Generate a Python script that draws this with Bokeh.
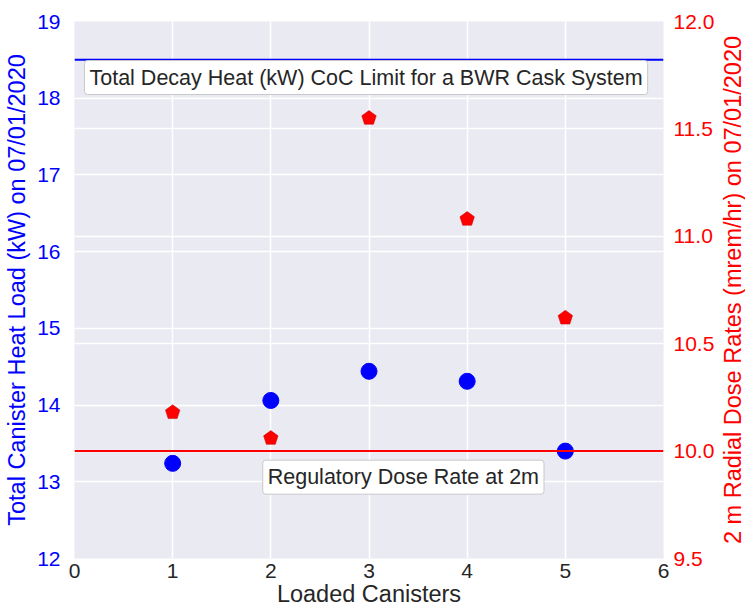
from bokeh.plotting import figure
from bokeh.layouts import row
from bokeh.models import Range1d, LinearAxis, FixedTicker, PrintfTickFormatter, Grid, Span, Label, Title, ColumnDataSource
from bokeh.embed import file_html
from bokeh.resources import INLINE

# ---- data ----
canisters = [1, 2, 3, 4, 5]
heat_load_kw = [13.24, 14.06, 14.44, 14.31, 13.40]
dose_rate = [10.18, 10.06, 11.55, 11.08, 10.62]
heat_limit_kw = 18.5
dose_limit = 10.0
x_ticks = [0, 1, 2, 3, 4, 5, 6]
left_ticks = [12, 13, 14, 15, 16, 17, 18, 19]
right_ticks = [9.5, 10.0, 10.5, 11.0, 11.5, 12.0]
heat_note = "Total Decay Heat (kW) CoC Limit for a BWR Cask System"
dose_note = "Regulatory Dose Rate at 2m"
right_label = "2 m Radial Dose Rates (mrem/hr) on 07/01/2020"

FONT = "Liberation Sans"
BLUE = "#0000FF"
RED = "#FF0000"
DARK = "#262626"

H = 610
W_MAIN, W_TITLE = 717, 28
BL, BT, BB = 74, 21, 47

p = figure(width=W_MAIN, height=H, output_backend="svg", toolbar_location=None,
           x_range=Range1d(0, 6), y_range=Range1d(12, 19),
           min_border_left=BL, min_border_right=0, min_border_top=BT, min_border_bottom=BB,
           background_fill_color="#EAEAF2", border_fill_color="white")
p.outline_line_color = None
p.extra_y_ranges = {"right": Range1d(9.5, 12.0)}

def style_axis(ax, color, standoff, label_standoff):
    ax.axis_line_color = None
    ax.major_tick_line_color = None
    ax.minor_tick_line_color = None
    ax.major_tick_out = 0
    ax.major_tick_in = 0
    ax.major_label_standoff = standoff
    ax.major_label_text_font = FONT
    ax.major_label_text_font_size = "21px"
    ax.major_label_text_color = color
    ax.axis_label_text_font = FONT
    ax.axis_label_text_font_size = "23.5px"
    ax.axis_label_text_font_style = "normal"
    ax.axis_label_text_color = color
    ax.axis_label_standoff = label_standoff

xa = p.xaxis[0]
xa.ticker = FixedTicker(ticks=x_ticks)
xa.axis_label = "Loaded Canisters"
style_axis(xa, DARK, 5, 0)

ya = p.yaxis[0]
ya.ticker = FixedTicker(ticks=left_ticks)
ya.axis_label = "Total Canister Heat Load (kW) on 07/01/2020"
style_axis(ya, BLUE, 14, 4)

ra = LinearAxis(y_range_name="right", ticker=FixedTicker(ticks=right_ticks),
                formatter=PrintfTickFormatter(format="%.1f"))
style_axis(ra, RED, 10, 0)
p.add_layout(ra, "right")

for g in p.grid:
    g.grid_line_color = "white"
    g.grid_line_width = 1.5
rg = Grid(dimension=1, axis=ra, ticker=ra.ticker, y_range_name="right",
          grid_line_color="white", grid_line_width=1.5)
p.add_layout(rg)

# limit lines
p.add_layout(Span(location=heat_limit_kw, dimension="width", line_color=BLUE, line_width=2))
p.add_layout(Span(location=dose_limit, dimension="width", line_color=RED, line_width=2,
                  y_range_name="right"))

# points
src_h = ColumnDataSource(dict(x=canisters, y=heat_load_kw))
p.scatter("x", "y", source=src_h, marker="circle", size=16, fill_color=BLUE, line_color=BLUE)

src_d = ColumnDataSource(dict(x=canisters, y=dose_rate))
p.ngon("x", "y", source=src_d, radius=7.6, radius_units="screen", n=5, angle=0,
       fill_color=RED, line_color="#C00000", line_width=0.5, y_range_name="right")

# notes
p.add_layout(Label(x=2.97, y=18.27, text=heat_note, text_align="center", text_baseline="middle",
                   text_font=FONT, text_font_size="21.5px", text_color=DARK,
                   background_fill_color="white", border_line_color="#C8C8C8",
                   padding=5, border_radius=3))
p.add_layout(Label(x=3.35, y=13.06, text=dose_note, text_align="center", text_baseline="middle",
                   text_font=FONT, text_font_size="21.5px", text_color=DARK,
                   background_fill_color="white", border_line_color="#C8C8C8",
                   padding=5, border_radius=3))

# narrow companion panel carrying the right-axis title (reads bottom-to-top)
p2 = figure(width=W_TITLE, height=H, output_backend="svg", toolbar_location=None,
            x_axis_location=None, y_axis_location=None,
            min_border_left=0, min_border_right=0, min_border_top=BT, min_border_bottom=52,
            background_fill_color="white", border_fill_color="white")
p2.outline_line_color = None
p2.grid.visible = False
p2.add_layout(Title(text=right_label, align="center", text_font=FONT, text_font_size="23.5px",
                    text_font_style="normal", text_color=RED, standoff=0, offset=0), "left")

layout = row(p, p2, spacing=0)
open("out.html", "w").write(file_html(layout, INLINE))
